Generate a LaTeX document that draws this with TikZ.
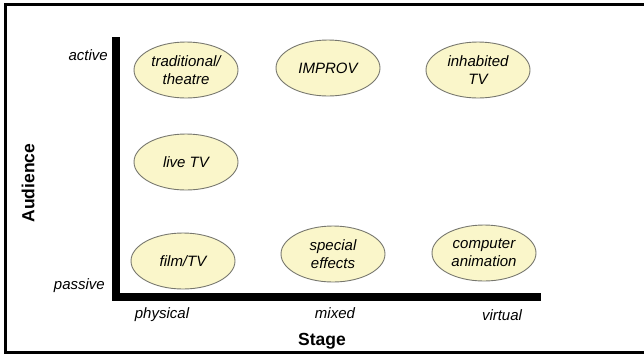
\documentclass[tikz,border=0pt]{standalone}
\usepackage{fontspec}
\setmainfont{Liberation Sans}
\usetikzlibrary{shapes.geometric}
\definecolor{cellfill}{HTML}{FAF6CA}
\definecolor{cellline}{HTML}{77776E}
\begin{document}
\begin{tikzpicture}[x=1pt,y=-1pt,
  cell/.style={ellipse, draw=cellline, line width=0.9pt, fill=cellfill,
    minimum width=104pt, minimum height=56pt, inner sep=0pt, align=center,
    font=\fontsize{15}{18}\selectfont\itshape},
  tick/.style={font=\fontsize{15}{18}\selectfont\itshape, inner sep=0pt},
  axistitle/.style={font=\fontsize{17.5}{20}\selectfont\bfseries, inner sep=0pt}]
\useasboundingbox (0,0) rectangle (644,354);
% frame
\draw[line width=3pt] (645,4.5) -- (5.5,4.5) -- (5.5,352.5) -- (645,352.5);
% axes
\coordinate (ytop) at (116,37);
\coordinate (origin) at (116,297);
\coordinate (xend) at (541,297);
\draw[line width=8pt] (ytop) -- (origin) -- (xend);
% categories
\node[cell] (trad)   at (186,70)  {traditional/\\theatre};
\node[cell] (improv) at (328,68)  {IMPROV};
\node[cell] (inhab)  at (478,70)  {inhabited\\TV};
\node[cell] (live)   at (186,162) {live TV};
\node[cell] (film)   at (183,261) {film/TV};
\node[cell] (sfx)    at (333,254) {special\\effects};
\node[cell] (anim)   at (484,253) {computer\\animation};
% axis labels
\node[tick, anchor=east] (active)  at (108,55)  {active};
\node[tick, anchor=east] (passive) at (105,286) {passive};
\node[tick] (physical) at (162,315) {physical};
\node[tick] (mixed)    at (335,313) {mixed};
\node[tick] (virtual)  at (502,315) {virtual};
\node[axistitle] (stage) at (322,341) {Stage};
\node[axistitle, rotate=90] (aud) at (28,183) {Audience};
\end{tikzpicture}
\end{document}
